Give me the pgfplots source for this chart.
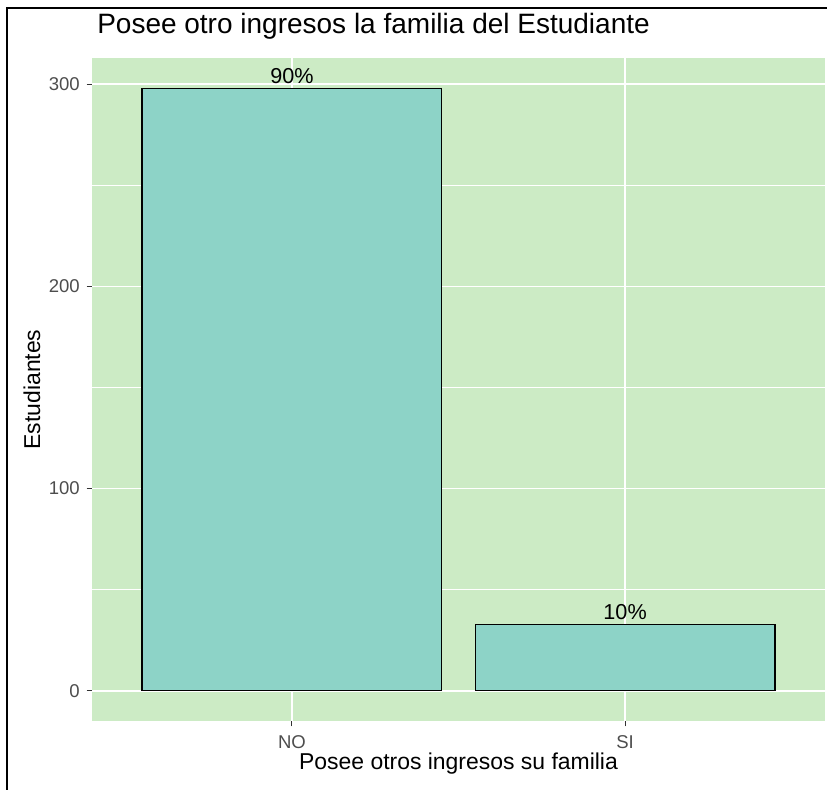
\documentclass[border=0pt]{standalone}
\usepackage{pgfplots}
\pgfplotsset{compat=1.18}
\usepackage{fontspec}
\setmainfont{Liberation Sans}
\definecolor{panel}{HTML}{CCEBC5}
\definecolor{barfill}{HTML}{8DD3C7}
\definecolor{ticktext}{HTML}{4D4D4D}
\definecolor{tickmark}{HTML}{333333}
\begin{document}
\begin{tikzpicture}
\useasboundingbox (0,0) rectangle (620.25pt,591.75pt);
\draw[line width=1.5pt, line cap=rect] (5.25pt,0pt) -- (5.25pt,585.75pt) -- (621pt,585.75pt);
\begin{axis}[
  at={(69pt,51pt)}, anchor=south west,
  scale only axis, width=549.75pt, height=497.25pt,
  xmin=0.4, xmax=2.6, ymin=-14.9, ymax=312.9,
  axis x line*=bottom, axis y line*=left,
  axis line style={draw=none},
  axis background/.style={fill=panel},
  xtick={1,2}, xticklabels={NO,SI},
  ytick={0,100,200,300},
  minor ytick={50,150,250},
  xmajorgrids, ymajorgrids, yminorgrids,
  major grid style={white, line width=1.1pt},
  minor grid style={white, line width=0.55pt},
  tick align=outside,
  major tick length=4pt, minor tick length=0pt,
  tick style={tickmark, line width=0.8pt},
  /pgf/number format/assume math mode=true,
  ticklabel style={font=\fontsize{13.9}{15}\selectfont, text=ticktext},
  yticklabel style={anchor=east, inner sep=0pt, xshift=-5pt},
  xticklabel style={anchor=north, inner sep=0pt, yshift=-7pt},
  xlabel={Posee otros ingresos su familia},
  ylabel={Estudiantes},
  label style={font=\fontsize{17.2}{19}\selectfont},
  xlabel style={at={(axis description cs:0.5,-0.0739)}, anchor=base, inner sep=0pt},
  ylabel style={at={(axis description cs:-0.0819,0.5)}, anchor=center, inner sep=0pt},
  title={Posee otro ingresos la familia del Estudiante},
  title style={at={(axis description cs:0.0068,1.0256)}, anchor=base west, inner sep=0pt, font=\fontsize{21}{24}\selectfont},
  clip=false,
]
\addplot[ybar, bar width=0.9, fill=barfill, draw=black, line width=0.9pt,
  point meta=explicit symbolic,
  nodes near coords,
  nodes near coords style={anchor=base, inner sep=0pt, yshift=3.5pt, font=\fontsize{16.2}{18}\selectfont, text=black}]
  coordinates {(1,298) [90\%] (2,33) [10\%]};
\end{axis}
\end{tikzpicture}
\end{document}
